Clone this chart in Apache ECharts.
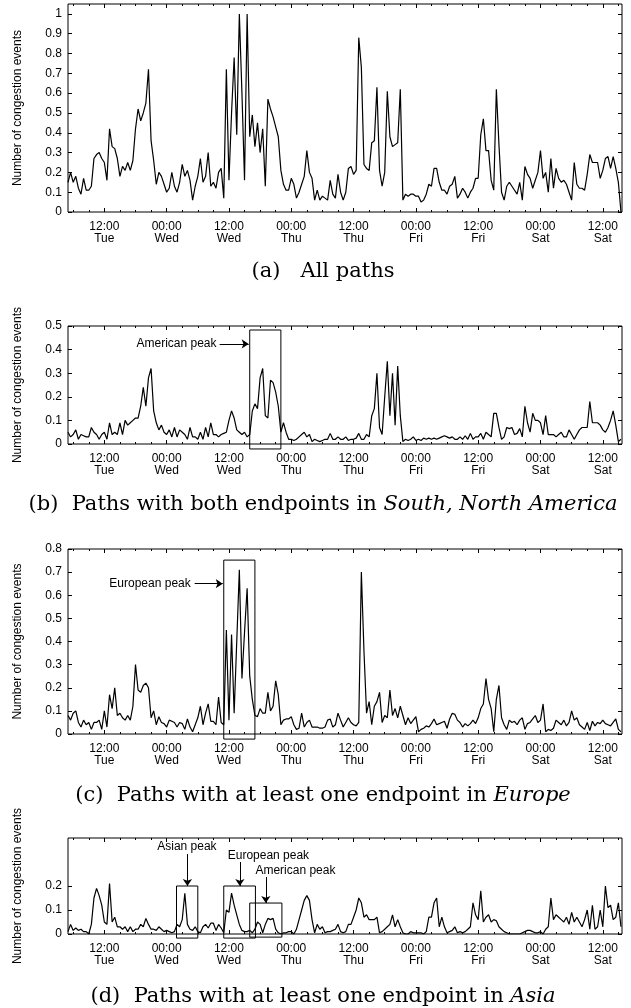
<!DOCTYPE html>
<html>
<head>
<meta charset="utf-8">
<script src="https://cdn.jsdelivr.net/npm/echarts@6/dist/echarts.min.js"></script>
<style>
  html, body { margin: 0; padding: 0; background: #fff; }
  #chart { width: 631px; height: 1008px; }
</style>
</head>
<body>
<div id="chart"></div>
<script>
// samples every half hour, hours counted from Tue 00:00
const startHour = 5;
const stepHours = 0.5;

const allPaths = [
    0.15, 0.20, 0.15, 0.18, 0.12, 0.09, 0.17, 0.11, 0.11, 0.13,
    0.27, 0.29, 0.30, 0.27, 0.25, 0.16, 0.42, 0.33, 0.32, 0.27,
    0.18, 0.23, 0.21, 0.25, 0.21, 0.26, 0.42, 0.52, 0.46, 0.50,
    0.55, 0.72, 0.36, 0.26, 0.14, 0.20, 0.18, 0.14, 0.10, 0.12,
    0.20, 0.13, 0.10, 0.15, 0.24, 0.18, 0.21, 0.16, 0.06, 0.13,
    0.18, 0.27, 0.15, 0.18, 0.30, 0.13, 0.15, 0.12, 0.20, 0.22,
    0.07, 0.72, 0.16, 0.50, 0.78, 0.39, 1.00, 0.60, 0.16, 1.00,
    0.38, 0.49, 0.33, 0.45, 0.30, 0.42, 0.13, 0.57, 0.52, 0.48,
    0.43, 0.38, 0.21, 0.14, 0.11, 0.11, 0.17, 0.14, 0.07, 0.10,
    0.14, 0.18, 0.31, 0.20, 0.17, 0.06, 0.11, 0.06, 0.08, 0.07,
    0.06, 0.16, 0.09, 0.07, 0.19, 0.10, 0.06, 0.10, 0.22, 0.23,
    0.19, 0.21, 0.88, 0.73, 0.24, 0.22, 0.21, 0.35, 0.36, 0.63,
    0.21, 0.13, 0.20, 0.61, 0.38, 0.33, 0.34, 0.35, 0.62, 0.06,
    0.09, 0.08, 0.09, 0.09, 0.08, 0.08, 0.05, 0.06, 0.09, 0.14,
    0.13, 0.22, 0.22, 0.15, 0.11, 0.11, 0.09, 0.13, 0.14, 0.18,
    0.07, 0.09, 0.12, 0.10, 0.07, 0.10, 0.12, 0.17, 0.17, 0.39,
    0.47, 0.31, 0.31, 0.16, 0.11, 0.62, 0.34, 0.10, 0.06, 0.13,
    0.15, 0.13, 0.11, 0.09, 0.15, 0.06, 0.23, 0.19, 0.17, 0.12,
    0.16, 0.20, 0.31, 0.17, 0.20, 0.10, 0.27, 0.12, 0.22, 0.17,
    0.15, 0.16, 0.14, 0.10, 0.06, 0.25, 0.14, 0.12, 0.12, 0.11,
    0.19, 0.29, 0.25, 0.25, 0.25, 0.17, 0.21, 0.27, 0.28, 0.22,
    0.28, 0.22, 0.15, 0.00
];

const americaPaths = [
    0.05, 0.03, 0.04, 0.06, 0.02, 0.04, 0.035, 0.03, 0.03, 0.07,
    0.05, 0.04, 0.02, 0.04, 0.05, 0.02, 0.09, 0.04, 0.05, 0.04,
    0.09, 0.04, 0.10, 0.08, 0.09, 0.10, 0.11, 0.11, 0.16, 0.24,
    0.16, 0.28, 0.32, 0.14, 0.09, 0.06, 0.08, 0.05, 0.04, 0.06,
    0.03, 0.07, 0.03, 0.06, 0.05, 0.04, 0.02, 0.07, 0.03, 0.03,
    0.02, 0.05, 0.02, 0.07, 0.03, 0.09, 0.04, 0.04, 0.03, 0.04,
    0.045, 0.05, 0.10, 0.14, 0.11, 0.06, 0.05, 0.04, 0.05, 0.03,
    0.04, 0.14, 0.17, 0.15, 0.28, 0.32, 0.12, 0.11, 0.27, 0.26,
    0.22, 0.16, 0.05, 0.09, 0.05, 0.02, 0.02, 0.015, 0.02, 0.03,
    0.04, 0.05, 0.03, 0.04, 0.01, 0.02, 0.015, 0.01, 0.015, 0.02,
    0.02, 0.045, 0.02, 0.02, 0.03, 0.02, 0.02, 0.03, 0.015, 0.02,
    0.02, 0.025, 0.045, 0.02, 0.02, 0.04, 0.03, 0.12, 0.15, 0.30,
    0.07, 0.04, 0.20, 0.35, 0.12, 0.30, 0.08, 0.33, 0.12, 0.01,
    0.02, 0.015, 0.02, 0.03, 0.015, 0.02, 0.015, 0.025, 0.02, 0.025,
    0.02, 0.025, 0.02, 0.025, 0.03, 0.035, 0.03, 0.025, 0.03, 0.02,
    0.02, 0.03, 0.02, 0.035, 0.02, 0.045, 0.02, 0.03, 0.03, 0.045,
    0.02, 0.05, 0.04, 0.03, 0.13, 0.13, 0.07, 0.02, 0.03, 0.07,
    0.065, 0.07, 0.04, 0.045, 0.065, 0.03, 0.16, 0.09, 0.05, 0.13,
    0.10, 0.10, 0.09, 0.04, 0.12, 0.04, 0.04, 0.04, 0.03, 0.04,
    0.05, 0.03, 0.03, 0.06, 0.04, 0.02, 0.04, 0.06, 0.07, 0.07,
    0.07, 0.18, 0.09, 0.09, 0.09, 0.08, 0.06, 0.05, 0.07, 0.10,
    0.14, 0.08, 0.01, 0.02
];

const europePaths = [
    0.08, 0.06, 0.09, 0.10, 0.05, 0.03, 0.06, 0.04, 0.05, 0.02,
    0.05, 0.05, 0.06, 0.02, 0.10, 0.03, 0.17, 0.11, 0.20, 0.08,
    0.09, 0.07, 0.06, 0.08, 0.06, 0.12, 0.30, 0.19, 0.18, 0.21,
    0.22, 0.20, 0.07, 0.10, 0.04, 0.075, 0.05, 0.045, 0.03, 0.06,
    0.055, 0.05, 0.03, 0.05, 0.045, 0.02, 0.065, 0.03, 0.01, 0.04,
    0.07, 0.12, 0.04, 0.09, 0.13, 0.055, 0.055, 0.04, 0.16, 0.05,
    0.04, 0.45, 0.06, 0.43, 0.09, 0.40, 0.71, 0.24, 0.44, 0.63,
    0.25, 0.15, 0.08, 0.075, 0.11, 0.09, 0.09, 0.18, 0.10, 0.12,
    0.23, 0.17, 0.04, 0.06, 0.065, 0.065, 0.075, 0.04, 0.02, 0.025,
    0.09, 0.03, 0.05, 0.06, 0.03, 0.03, 0.03, 0.025, 0.025, 0.03,
    0.06, 0.065, 0.03, 0.04, 0.09, 0.06, 0.03, 0.05, 0.07, 0.05,
    0.04, 0.035, 0.05, 0.70, 0.36, 0.09, 0.14, 0.04, 0.12, 0.14,
    0.18, 0.05, 0.08, 0.07, 0.19, 0.08, 0.11, 0.07, 0.12, 0.08,
    0.04, 0.07, 0.045, 0.06, 0.075, 0.01, 0.02, 0.025, 0.035, 0.03,
    0.045, 0.065, 0.04, 0.045, 0.05, 0.055, 0.025, 0.065, 0.09, 0.085,
    0.06, 0.05, 0.03, 0.045, 0.035, 0.045, 0.06, 0.045, 0.07, 0.11,
    0.13, 0.24, 0.15, 0.11, 0.01, 0.15, 0.21, 0.07, 0.04, 0.02,
    0.06, 0.05, 0.055, 0.04, 0.06, 0.07, 0.02, 0.045, 0.05, 0.065,
    0.08, 0.05, 0.06, 0.13, 0.01, 0.02, 0.015, 0.025, 0.06, 0.05,
    0.04, 0.06, 0.035, 0.05, 0.10, 0.06, 0.07, 0.04, 0.03, 0.02,
    0.05, 0.015, 0.055, 0.035, 0.05, 0.045, 0.06, 0.045, 0.04, 0.035,
    0.05, 0.065, 0.02, 0.01
];

const asiaPaths = [
    0.01, 0.04, 0.015, 0.025, 0.015, 0.02, 0.01, 0.01, 0.0, 0.04,
    0.15, 0.19, 0.16, 0.12, 0.05, 0.04, 0.21, 0.05, 0.07, 0.03,
    0.03, 0.02, 0.03, 0.01, 0.03, 0.01, 0.02, 0.02, 0.04, 0.03,
    0.065, 0.04, 0.02, 0.02, 0.015, 0.03, 0.02, 0.01, 0.015, 0.01,
    0.005, 0.01, 0.04, 0.03, 0.06, 0.17, 0.04, 0.02, 0.015, 0.03,
    0.01, 0.005, 0.03, 0.04, 0.025, 0.045, 0.045, 0.015, 0.04, 0.025,
    0.005, 0.10, 0.09, 0.17, 0.12, 0.08, 0.04, 0.015, 0.01, 0.01,
    0.015, 0.005, 0.02, 0.05, 0.04, 0.005, 0.04, 0.065, 0.06, 0.065,
    0.02, 0.005, 0.0, 0.005, 0.005, 0.01, 0.01, 0.0, 0.02, 0.06,
    0.10, 0.14, 0.16, 0.14, 0.06, 0.005, 0.04, 0.02, 0.03, 0.005,
    0.01, 0.01, 0.015, 0.02, 0.04, 0.01, 0.005, 0.01, 0.04, 0.04,
    0.07, 0.10, 0.15, 0.13, 0.07, 0.08, 0.06, 0.06, 0.06, 0.07,
    0.005, 0.01, 0.02, 0.03, 0.04, 0.08, 0.03, 0.06, 0.03, 0.005,
    0.0, 0.0, 0.01, 0.005, 0.005, 0.005, 0.005, 0.0, 0.01, 0.07,
    0.07, 0.13, 0.15, 0.03, 0.07, 0.03, 0.005, 0.01, 0.015, 0.03,
    0.005, 0.01, 0.005, 0.01, 0.02, 0.03, 0.13, 0.08, 0.06, 0.18,
    0.05, 0.07, 0.08, 0.05, 0.06, 0.055, 0.03, 0.02, 0.01, 0.005,
    0.0, 0.0, 0.0, 0.0, 0.0, 0.005, 0.01, 0.015, 0.015, 0.01,
    0.005, 0.005, 0.01, 0.0, 0.02, 0.03, 0.15, 0.06, 0.08, 0.07,
    0.06, 0.05, 0.07, 0.04, 0.09, 0.05, 0.07, 0.05, 0.03, 0.06,
    0.10, 0.02, 0.12, 0.02, 0.03, 0.10, 0.03, 0.20, 0.11, 0.12,
    0.06, 0.07, 0.13, 0.03
];

const xLabelHours = [12, 24, 36, 48, 60, 72, 84, 96, 108];
const xLabels = ['12:00\nTue', '00:00\nWed', '12:00\nWed', '00:00\nThu', '12:00\nThu',
                 '00:00\nFri', '12:00\nFri', '00:00\nSat', '12:00\nSat'];
const xMinorHours = [6, 9, 15, 18, 21, 27, 30, 33, 39, 42, 45, 51, 54, 57, 63, 66, 69,
                     75, 78, 81, 87, 90, 93, 99, 102, 105, 111];

const yTicksA = [0, 0.1, 0.2, 0.3, 0.4, 0.5, 0.6, 0.7, 0.8, 0.9, 1];
const yTicksB = [0, 0.1, 0.2, 0.3, 0.4, 0.5];
const yTicksC = [0, 0.1, 0.2, 0.3, 0.4, 0.5, 0.6, 0.7, 0.8];
const yTicksD = [0, 0.1, 0.2];

// annotation boxes: [hourFrom, hourTo, valueBottom, valueTop]
const boxesB = [[40.0, 46.0, -0.021, 0.483]];
const boxesC = [[35.0, 41.0, -0.022, 0.752]];
const boxesD = [[25.9, 30.0, -0.017, 0.2], [35.0, 41.1, -0.017, 0.2], [40.0, 46.2, -0.013, 0.129]];
// arrows: [fromHour, fromValue, toHour, toValue]
const arrowsB = [[34.2, 0.424, 39.8, 0.424]];
const arrowsC = [[29.4, 0.65, 34.8, 0.65]];
const arrowsD = [[28.0, 0.333, 28.0, 0.2], [38.1, 0.30, 38.1, 0.2], [43.1, 0.2375, 43.1, 0.129]];
// labels: [text, centerHour, centerValue]
const notesB = [['American peak', 25.9, 0.424]];
const notesC = [['European peak', 20.8, 0.65]];
const notesD = [['Asian peak', 27.9, 0.3625], ['European peak', 43.6, 0.325], ['American peak', 48.8, 0.2625]];

const panels = [
    { values: allPaths, yMax: 1.05, yTicks: yTicksA, top: 4, height: 208, boxes: [], arrows: [], notes: [] },
    { values: americaPaths, yMax: 0.5, yTicks: yTicksB, top: 326, height: 118, boxes: boxesB, arrows: arrowsB, notes: notesB },
    { values: europePaths, yMax: 0.8, yTicks: yTicksC, top: 549, height: 185, boxes: boxesC, arrows: arrowsC, notes: notesC },
    { values: asiaPaths, yMax: 0.4, yTicks: yTicksD, top: 838, height: 96, boxes: boxesD, arrows: arrowsD, notes: notesD }
];

const captions = [
    { y: 272, text: '{r|(a)   All paths}' },
    { y: 505, text: '{r|(b)  Paths with both endpoints in }{i|South, North America}' },
    { y: 796, text: '{r|(c)  Paths with at least one endpoint in }{i|Europe}' },
    { y: 997, text: '{r|(d)  Paths with at least one endpoint in }{i|Asia}' }
];

const sans = 'Liberation Sans, Arial, sans-serif';
const serif = 'DejaVu Serif, serif';
const black = '#000';

const grids = [];
const xAxes = [];
const yAxes = [];
const series = [];

panels.forEach((p, i) => {
    grids.push({
        left: 68, right: 9, top: p.top, height: p.height,
        show: true, borderColor: black, borderWidth: 1, backgroundColor: 'transparent'
    });
    const xBase = {
        type: 'value', gridIndex: i, min: startHour, max: 111.7,
        axisLine: { show: false }, splitLine: { show: false }
    };
    ['bottom', 'top'].forEach(pos => {
        xAxes.push(Object.assign({}, xBase, {
            position: pos,
            axisTick: { inside: true, length: 4, customValues: xLabelHours, lineStyle: { color: black } },
            axisLabel: {
                show: pos === 'bottom',
                customValues: xLabelHours,
                formatter: v => xLabels[xLabelHours.indexOf(v)],
                color: black, fontFamily: sans, fontSize: 12, lineHeight: 11.5, margin: 9
            }
        }));
        xAxes.push(Object.assign({}, xBase, {
            position: pos,
            axisTick: { inside: true, length: 2, customValues: xMinorHours, lineStyle: { color: black } },
            axisLabel: { show: false }
        }));
    });
    const yBase = {
        type: 'value', gridIndex: i, min: 0, max: p.yMax,
        axisLine: { show: false }, splitLine: { show: false },
        axisTick: { inside: true, length: 4, customValues: p.yTicks, lineStyle: { color: black } }
    };
    yAxes.push(Object.assign({}, yBase, {
        position: 'left',
        name: 'Number of congestion events',
        nameLocation: 'middle', nameGap: 44,
        nameTextStyle: { color: black, fontFamily: sans, fontSize: 12 },
        axisLabel: {
            customValues: p.yTicks, color: black, fontFamily: sans, fontSize: 12, margin: 6,
            formatter: v => String(+v.toFixed(1))
        }
    }));
    yAxes.push(Object.assign({}, yBase, { position: 'right', axisLabel: { show: false } }));

    series.push({
        type: 'line', xAxisIndex: i * 4, yAxisIndex: i * 2,
        data: p.values.map((v, k) => [startHour + k * stepHours, v]),
        showSymbol: false, silent: true, animation: false,
        lineStyle: { color: black, width: 1.2 }
    });

    p.boxes.forEach((b, j) => {
        const s = {
            type: 'line', xAxisIndex: i * 4, yAxisIndex: i * 2,
            data: [[b[0], b[2]], [b[1], b[2]], [b[1], b[3]], [b[0], b[3]], [b[0], b[2]]],
            showSymbol: false, silent: true, animation: false, clip: false,
            lineStyle: { color: black, width: 1 }
        };
        if (j === 0) {
            s.markLine = {
                silent: true, animation: false,
                symbol: ['none', 'arrow'], symbolSize: 7,
                lineStyle: { color: black, width: 1, type: 'solid' },
                label: { show: false },
                data: p.arrows.map(a => [{ coord: [a[0], a[1]] }, { coord: [a[2], a[3]] }])
            };
            s.markPoint = {
                silent: true, animation: false,
                symbol: 'circle', symbolSize: 1, itemStyle: { color: 'transparent' },
                label: { show: true, position: 'inside', color: black, fontFamily: sans, fontSize: 12,
                         formatter: prm => prm.name },
                data: p.notes.map(n => ({ name: n[0], coord: [n[1], n[2]] }))
            };
        }
        series.push(s);
    });
});

const chart = echarts.init(document.getElementById('chart'), null, { renderer: 'canvas' });
chart.setOption({
    animation: false,
    backgroundColor: '#fff',
    grid: grids,
    xAxis: xAxes,
    yAxis: yAxes,
    series: series,
    graphic: captions.map(c => ({
        type: 'text', x: 323, y: c.y, silent: true,
        style: {
            text: c.text,
            align: 'center', verticalAlign: 'middle',
            textAlign: 'center', textVerticalAlign: 'middle',
            rich: {
                r: { fontFamily: serif, fontSize: 21, fill: black, color: black },
                i: { fontFamily: serif, fontSize: 21, fontStyle: 'italic', fill: black, color: black }
            }
        }
    }))
});
</script>
</body>
</html>
